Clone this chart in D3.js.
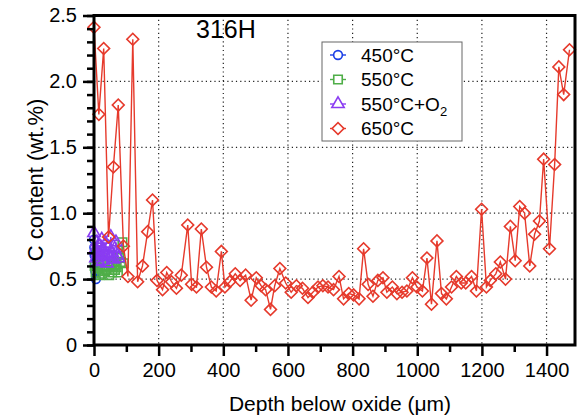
<!DOCTYPE html>
<html>
<head>
<meta charset="utf-8">
<script src="https://cdn.jsdelivr.net/npm/d3@7"></script>
<style>
  body { margin: 0; background: #fff; }
  text { font-family: "Liberation Sans", Arial, Helvetica, sans-serif; fill: #000; }
</style>
</head>
<body>
<script>
// Data: carbon content vs depth below oxide, 316H
const depth450 = [0, 1, 2, 3, 4, 5, 6, 8];
const carbon450 = [0.80, 0.74, 0.68, 0.62, 0.56, 0.71, 0.50, 0.65];

const depth550 = [2, 5, 9, 13, 17, 21, 25, 30, 34, 38, 43, 47, 52, 56, 61, 65, 70, 74, 79, 83, 88, 92];
const carbon550 = [0.60, 0.55, 0.70, 0.58, 0.53, 0.65, 0.54, 0.62, 0.56, 0.57, 0.68, 0.53, 0.60, 0.55, 0.63, 0.57, 0.59, 0.55, 0.66, 0.63, 0.78, 0.62];

const depth550O2 = [0, 3, 6, 9, 12, 15, 18, 21, 24, 27, 30, 33, 36, 40, 44, 48, 52, 56, 60, 64, 68, 72, 76];
const carbon550O2 = [0.85, 0.72, 0.66, 0.78, 0.70, 0.63, 0.75, 0.68, 0.80, 0.64, 0.72, 0.69, 0.77, 0.62, 0.74, 0.67, 0.82, 0.70, 0.65, 0.73, 0.78, 0.68, 0.66];

const depth650 = [0, 15, 30, 45, 60, 75, 91, 105, 120, 135, 150, 166, 181, 195, 212, 225, 240, 255, 270, 290,
  302, 317, 332, 348, 363, 378, 394, 405, 420, 437, 452, 469, 486, 502, 517, 531, 546, 559, 575, 593,
  610, 626, 645, 662, 677, 693, 708, 724, 741, 758, 772, 788, 803, 820, 834, 848, 863, 878, 894, 906,
  923, 937, 953, 968, 985, 999, 1016, 1030, 1044, 1061, 1075, 1090, 1106, 1121, 1136, 1150, 1168, 1183, 1199, 1214,
  1226, 1243, 1257, 1273, 1288, 1303, 1317, 1332, 1348, 1363, 1378, 1391, 1409, 1425, 1438, 1453, 1471];
const carbon650 = [2.41, 1.75, 2.25, 0.82, 1.35, 1.82, 0.75, 0.52, 2.32, 0.48, 0.60, 0.86, 1.10, 0.49, 0.42, 0.55, 0.48, 0.43, 0.53, 0.91,
  0.46, 0.44, 0.88, 0.59, 0.44, 0.41, 0.71, 0.44, 0.48, 0.54, 0.49, 0.53, 0.34, 0.51, 0.45, 0.42, 0.27, 0.45, 0.58, 0.47,
  0.40, 0.45, 0.43, 0.36, 0.40, 0.44, 0.45, 0.44, 0.42, 0.52, 0.35, 0.39, 0.38, 0.35, 0.73, 0.46, 0.37, 0.49, 0.51, 0.40,
  0.44, 0.39, 0.40, 0.41, 0.51, 0.44, 0.41, 0.66, 0.31, 0.79, 0.39, 0.35, 0.44, 0.52, 0.47, 0.47, 0.52, 0.41, 1.03, 0.44,
  0.49, 0.54, 0.63, 0.50, 0.90, 0.64, 1.05, 1.00, 0.60, 0.84, 0.94, 1.41, 0.73, 1.37, 2.11, 1.90, 2.24];

const xTicks = [0, 200, 400, 600, 800, 1000, 1200, 1400];
const yTicks = [0, 0.5, 1.0, 1.5, 2.0, 2.5];

const series = [
  { label: '450°C', x: depth450, y: carbon450, color: '#1a3ee6', symbol: d3.symbolCircle, size: 60, rot: 0 },
  { label: '550°C', x: depth550, y: carbon550, color: '#4fae48', symbol: d3.symbolSquare, size: 72, rot: 0 },
  { label: '550°C+O2', x: depth550O2, y: carbon550O2, color: '#8a3cf2', symbol: d3.symbolTriangle, size: 66, rot: 0 },
  { label: '650°C', x: depth650, y: carbon650, color: '#e63a2c', symbol: d3.symbolSquare, size: 70, rot: 45 }
];

// Dimensions
const width = 581;
const height = 417;
const plotLeft = 94, plotRight = 575, plotTop = 15.5, plotBottom = 345;

const svg = d3.select('body')
  .append('svg')
  .attr('width', width)
  .attr('height', height);

const x = d3.scaleLinear().domain([0, 1488]).range([plotLeft, plotRight]);
const y = d3.scaleLinear().domain([0, 2.5]).range([plotBottom, plotTop]);

// Grid
const grid = svg.append('g')
  .attr('stroke', '#222')
  .attr('stroke-width', 1.2)
  .attr('stroke-dasharray', '1.2,3.1');
grid.selectAll('.vg')
  .data(xTicks.slice(1))
  .enter()
  .append('line')
  .attr('x1', d => x(d)).attr('x2', d => x(d))
  .attr('y1', plotTop).attr('y2', plotBottom);
grid.selectAll('.hg')
  .data(yTicks.slice(1, -1))
  .enter()
  .append('line')
  .attr('x1', plotLeft).attr('x2', plotRight)
  .attr('y1', d => y(d)).attr('y2', d => y(d));

// Series
const line = d3.line()
  .x(d => x(d[0]))
  .y(d => y(d[1]));

series.forEach(s => {
  const pts = s.x.map((d, i) => [d, s.y[i]]);
  const g = svg.append('g');
  g.append('path')
    .attr('d', line(pts))
    .attr('fill', 'none')
    .attr('stroke', s.color)
    .attr('stroke-width', 1.4);
  g.selectAll('path.m')
    .data(pts)
    .enter()
    .append('path')
    .attr('class', 'm')
    .attr('d', d3.symbol().type(s.symbol).size(s.size))
    .attr('transform', d => `translate(${x(d[0])},${y(d[1])}) rotate(${s.rot})`)
    .attr('fill', 'none')
    .attr('stroke', s.color)
    .attr('stroke-width', 1.6);
});

// Axes
const fmtY = d => d === 0 ? '0' : d3.format('.1f')(d);

svg.append('g')
  .attr('transform', `translate(${plotLeft},0)`)
  .call(d3.axisLeft(y).tickValues(d3.range(0, 2.51, 0.1)).tickSize(7).tickFormat(''))
  .call(g => g.select('.domain').remove())
  .call(g => g.selectAll('line').attr('stroke-width', 2.5));

svg.append('g')
  .attr('transform', `translate(${plotLeft},0)`)
  .call(d3.axisLeft(y).tickValues(yTicks).tickSize(11).tickPadding(6).tickFormat(fmtY))
  .call(g => g.select('.domain').remove())
  .call(g => g.selectAll('line').attr('stroke-width', 2.5))
  .call(g => g.selectAll('text').style('font-size', '20px'));

svg.append('g')
  .attr('transform', `translate(0,${plotBottom})`)
  .call(d3.axisBottom(x).tickValues(d3.range(100, 1500, 200)).tickSize(7).tickFormat(''))
  .call(g => g.select('.domain').remove())
  .call(g => g.selectAll('line').attr('stroke-width', 2.5));

svg.append('g')
  .attr('transform', `translate(0,${plotBottom})`)
  .call(d3.axisBottom(x).tickValues(xTicks).tickSize(11).tickPadding(7).tickFormat(d3.format('d')))
  .call(g => g.select('.domain').remove())
  .call(g => g.selectAll('line').attr('stroke-width', 2.5))
  .call(g => g.selectAll('text').style('font-size', '20px'));

// Frame
svg.append('path')
  .attr('d', `M${plotLeft},${plotBottom}V${plotTop}H${plotRight}V${plotBottom}H${plotLeft}`)
  .attr('fill', 'none')
  .attr('stroke', '#000')
  .attr('stroke-width', 3);

// Labels
svg.append('text')
  .attr('x', 196).attr('y', 38)
  .style('font-size', '25px')
  .text('316H');

svg.append('text')
  .attr('transform', 'translate(43,180) rotate(-90)')
  .attr('text-anchor', 'middle')
  .style('font-size', '22px')
  .text('C content (wt.%)');

svg.append('text')
  .attr('x', 340).attr('y', 411)
  .attr('text-anchor', 'middle')
  .style('font-size', '21px')
  .text('Depth below oxide (μm)');

// Legend
const legend = svg.append('g');
legend.append('rect')
  .attr('x', 322).attr('y', 42)
  .attr('width', 140).attr('height', 99)
  .attr('fill', '#fff')
  .attr('stroke', '#666')
  .attr('stroke-width', 1);

series.forEach((s, i) => {
  const cy = 55 + i * 24.5;
  legend.append('line')
    .attr('x1', 330).attr('x2', 346)
    .attr('y1', cy).attr('y2', cy)
    .attr('stroke', s.color)
    .attr('stroke-width', 1.4);
  legend.append('path')
    .attr('d', d3.symbol().type(s.symbol).size(s.size)())
    .attr('transform', `translate(338,${cy}) rotate(${s.rot})`)
    .attr('fill', '#fff')
    .attr('stroke', s.color)
    .attr('stroke-width', 1.6);
  const t = legend.append('text')
    .attr('x', 361).attr('y', cy)
    .attr('dy', '0.35em')
    .style('font-size', '19px');
  if (s.label.endsWith('O2')) {
    t.text('550°C+O');
    t.append('tspan').attr('dy', '5').style('font-size', '13px').text('2');
  } else {
    t.text(s.label);
  }
});
</script>
</body>
</html>
